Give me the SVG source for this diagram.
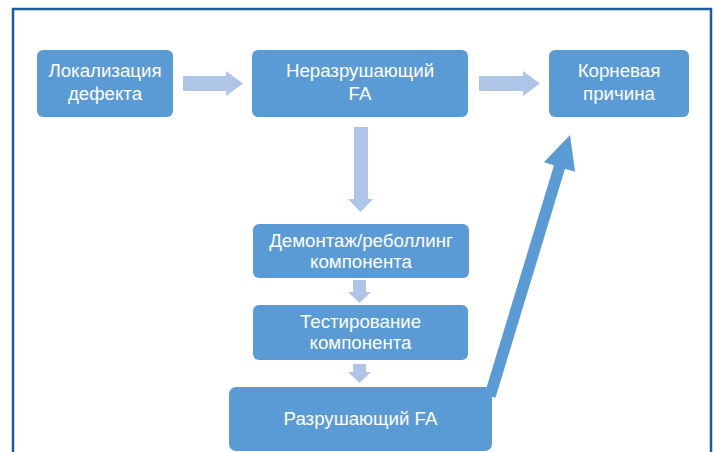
<svg xmlns="http://www.w3.org/2000/svg" width="714" height="452" viewBox="0 0 714 452">
<style>
.box{fill:#5b9bd5}
.t{fill:#ffffff;font-family:"Liberation Sans",Arial,sans-serif;font-size:18.7px;text-anchor:middle}
.la{fill:#aec5e8}
.frame{fill:none;stroke:#1c5aa5;stroke-width:2.5}
</style>
<rect width="714" height="452" fill="#ffffff"/>
<path class="frame" d="M13,452 V9 H711 V452"/>
<g id="connectors">
<path class="la" d="M183,76 H226 V71 L243,83.5 L226,96 V91 H183 Z"/>
<path class="la" d="M479,76 H523 V71 L540,83.5 L523,96 V91 H479 Z"/>
<path class="la" d="M354,127 H368 V199 H373 L360.5,212 L348,199 H354 Z"/>
<path class="la" d="M353,280 H366 V292 H371 L359.5,303 L348,292 H353 Z"/>
<path class="la" d="M353,364 H366 V372 H371 L359.5,383 L348,372 H353 Z"/>
<path fill="#5b9bd5" d="M484.5,394.3 L495.5,397.7 L565,168.7 L575.1,171.8 L570,135 L543.9,162.2 L554,165.3 Z"/>
</g>
<g id="n1"><rect class="box" x="37" y="50" width="136" height="67" rx="6"/><text class="t" x="105" y="77">Локализация</text><text class="t" x="105" y="100">дефекта</text></g>
<g id="n2"><rect class="box" x="252" y="50" width="216" height="67" rx="6"/><text class="t" x="360" y="77">Неразрушающий</text><text class="t" x="360" y="100">FA</text></g>
<g id="n3"><rect class="box" x="549" y="50" width="140" height="67" rx="6"/><text class="t" x="619" y="77">Корневая</text><text class="t" x="619" y="100">причина</text></g>
<g id="n4"><rect class="box" x="253" y="224" width="216" height="54" rx="6"/><text class="t" x="361" y="247">Демонтаж/реболлинг</text><text class="t" x="361" y="268">компонента</text></g>
<g id="n5"><rect class="box" x="253" y="305" width="215" height="55" rx="6"/><text class="t" x="360.5" y="328">Тестирование</text><text class="t" x="360.5" y="349">компонента</text></g>
<g id="n6"><rect class="box" x="229" y="387" width="263" height="64" rx="7"/><text class="t" x="360.5" y="425">Разрушающий FA</text></g>
</svg>
